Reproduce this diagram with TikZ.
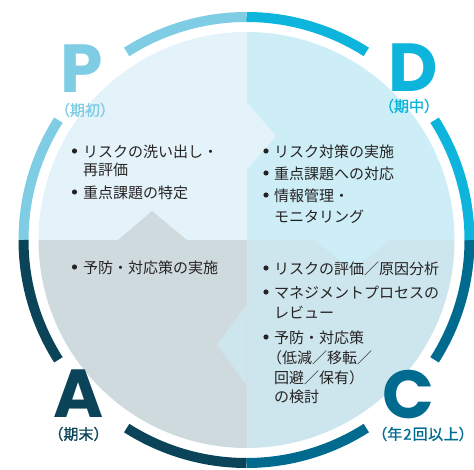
\documentclass[tikz,border=0pt]{standalone}
\usepackage{fontspec}
\setmainfont{Noto Sans CJK JP}
\newfontfamily\letterfont{Poppins}
\newfontfamily\labelfont{Noto Sans CJK JP}[FakeBold=1.2]
\usetikzlibrary{calc}
\definecolor{pring}{HTML}{7FCDE4}
\definecolor{dring}{HTML}{0DB5DC}
\definecolor{aring}{HTML}{0B4458}
\definecolor{cring}{HTML}{006B8F}
\definecolor{pfill}{HTML}{E4F3F9}
\definecolor{dfill}{HTML}{CDEEF6}
\definecolor{afill}{HTML}{CFDADF}
\definecolor{cfill}{HTML}{CDE5EC}
\definecolor{txt}{HTML}{262324}
\tikzset{
  ring/.style={line width=10pt},
  bigletter/.style={inner sep=0pt, font=\letterfont\bfseries\fontsize{68}{68}\selectfont},
  phase/.style={inner sep=0pt, font=\labelfont\fontsize{15}{17}\selectfont},
  itemline/.style={anchor=west, inner sep=0pt, text=txt, font=\fontsize{15}{18}\selectfont},
  dot/.style={txt}
}
\begin{document}
\begin{tikzpicture}[x=1pt,y=-1pt]
\useasboundingbox (0,0) rectangle (474,470);
\coordinate (O) at (246.5,240);
% quadrant fills
\begin{scope}
  \clip (O) circle[radius=208];
  \fill[pfill] (O) rectangle (0,0);
  \fill[dfill] (O) rectangle (474,0);
  \fill[afill] (O) rectangle (0,470);
  \fill[cfill] (O) rectangle (474,470);
  % puzzle tabs
  \fill[pfill] (246.5,102) -- (276,136) -- (246.5,170) -- cycle;
  \fill[dfill] (315,240) -- (352,270) -- (390,240) -- cycle;
  \fill[cfill] (246.5,305) -- (217,345) -- (246.5,385) -- cycle;
  \fill[afill] (118,240) -- (152,211) -- (187,240) -- cycle;
\end{scope}
% outer ring segments (angles negated because y points down)
\draw[ring, pring] ($(O)+(-90:223)$) arc[start angle=-90, end angle=-122.5, radius=223];
\draw[ring, pring] ($(O)+(-147.5:223)$) arc[start angle=-147.5, end angle=-180, radius=223];
\draw[ring, aring] ($(O)+(-180:223)$) arc[start angle=-180, end angle=-212.5, radius=223];
\draw[ring, aring] ($(O)+(-237.5:223)$) arc[start angle=-237.5, end angle=-270, radius=223];
\draw[ring, cring] ($(O)+(-270:223)$) arc[start angle=-270, end angle=-302.5, radius=223];
\draw[ring, cring] ($(O)+(-327.5:223)$) arc[start angle=-327.5, end angle=-360, radius=223];
\draw[ring, dring] ($(O)+(0:223)$) arc[start angle=0, end angle=-32.5, radius=223];
\draw[ring, dring] ($(O)+(-57.5:223)$) arc[start angle=-57.5, end angle=-90, radius=223];
% big letters and phase labels
\node[bigletter, text=pring] (P) at (82,69) {P};
\node[phase, text=pring] (Pl) at (85,110) {（期初）};
\node[bigletter, text=dring] (D) at (413,68) {D};
\node[phase, text=dring] (Dl) at (409,106) {（期中）};
\node[bigletter, text=aring] (A) at (79,394) {A};
\node[phase, text=aring] (Al) at (78.5,434) {（期末）};
\node[bigletter, text=cring] (C) at (408,395) {C};
\node[phase, text=cring] (Cl) at (423,434) {（年\kern1pt 2\kern1pt 回\kern0.5pt 以\kern0.5pt 上）};
% P items
\fill[dot] (74.5,151) circle[radius=2.6];
\node[itemline] (p1) at (83,152) {リスクの洗い出し・};
\node[itemline] (p1b) at (83,170) {再評価};
\fill[dot] (74.5,192) circle[radius=2.6];
\node[itemline] (p2) at (83,193) {重点課題の特定};
% D items
\fill[dot] (266,151) circle[radius=2.6];
\node[itemline] (d1) at (274,152) {リスク対策の実施};
\fill[dot] (266,173) circle[radius=2.6];
\node[itemline] (d2) at (274,174) {重点課題への対応};
\fill[dot] (266,195) circle[radius=2.6];
\node[itemline] (d3) at (274,196) {情報管理・};
\node[itemline] (d3b) at (274,217) {モニタリング};
% A items
\fill[dot] (74.5,267) circle[radius=2.6];
\node[itemline] (a1) at (83,268) {予防・対応策の実施};
% C items
\fill[dot] (266,268) circle[radius=2.6];
\node[itemline] (c1) at (274,269) {リスクの評価／原因分析};
\fill[dot] (266,292) circle[radius=2.6];
\node[itemline] (c2) at (274,293) {マネジメントプロセスの};
\node[itemline] (c2b) at (274,312) {レビュー};
\fill[dot] (266,337) circle[radius=2.6];
\node[itemline] (c3) at (274,338) {予防・対応策};
\node[itemline] (c3b) at (267,358) {（低減／移転／};
\node[itemline] (c3c) at (274,378) {回避／保有）};
\node[itemline] (c3d) at (274,397) {の検討};
\end{tikzpicture}
\end{document}
